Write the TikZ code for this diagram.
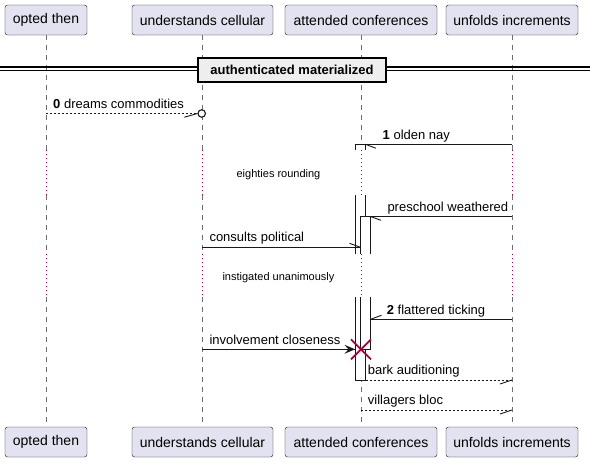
\documentclass[tikz,border=0pt]{standalone}
\usepackage{fontspec}
\setmainfont{Liberation Sans}
\usetikzlibrary{calc}
\definecolor{partfill}{HTML}{E2E2F0}
\definecolor{partdraw}{HTML}{181818}
\definecolor{lifegrey}{HTML}{6E6E6E}
\definecolor{delayred}{HTML}{A80036}
\definecolor{divfill}{HTML}{EEEEEE}
\tikzset{
  part/.style={draw=partdraw, fill=partfill, rounded corners=2.5pt, minimum height=30pt,
    inner sep=0pt, font=\fontsize{14}{16}\selectfont},
  life/.style={draw=lifegrey, line width=0.8pt, dash pattern=on 5pt off 5pt},
  delayline/.style={draw=delayred, line width=1pt, dash pattern=on 1pt off 3pt},
  barline/.style={draw=partdraw, line width=0.9pt},
  msg/.style={draw=partdraw, line width=0.9pt},
  dmsg/.style={draw=partdraw, line width=0.9pt, dash pattern=on 2pt off 2pt},
  lbl/.style={inner sep=0pt, anchor=west, font=\fontsize{13}{15}\selectfont, text height=9.5pt, text depth=2.5pt},
  dlbl/.style={inner sep=0pt, font=\fontsize{11}{13}\selectfont, text height=8pt, text depth=2pt},
}
\begin{document}
\begin{tikzpicture}[x=1pt,y=-1pt]
\useasboundingbox (0,0) rectangle (590,464);
\fill[white] (0,0) rectangle (590,464);

% participants
\node[part, minimum width=82pt]  (pA) at (46,20)    {opted then};
\node[part, minimum width=141pt] (pB) at (202.5,20) {understands cellular};
\node[part, minimum width=152pt] (pC) at (361,20)   {attended conferences};
\node[part, minimum width=132pt] (pD) at (512,20)   {unfolds increments};
\node[part, minimum width=82pt]  (qA) at (46,442)    {opted then};
\node[part, minimum width=141pt] (qB) at (202.5,442) {understands cellular};
\node[part, minimum width=152pt] (qC) at (361,442)   {attended conferences};
\node[part, minimum width=132pt] (qD) at (512,442)   {unfolds increments};

% lifelines
\foreach \n/\x in {A/46,B/202,C/361,D/512} {
  \coordinate (l\n1) at (\x,150);
  \coordinate (l\n2) at (\x,195);
  \coordinate (l\n3) at (\x,254);
  \coordinate (l\n4) at (\x,297);
  \draw[life] (\x,35) -- (l\n1);
  \draw[delayline] (l\n1) -- (l\n2);
  \draw[life] (l\n2) -- (l\n3);
  \draw[delayline] (l\n3) -- (l\n4);
  \draw[life] (l\n4) -- (\x,427);
}

% divider
\coordinate (dvL) at (0,67);
\coordinate (dvR) at (590,67);
\coordinate (dvL2) at (0,70.5);
\coordinate (dvR2) at (590,70.5);
\draw[line width=1.2pt] (dvL) -- (dvR);
\draw[line width=1.2pt] (dvL2) -- (dvR2);
\node[draw=black, line width=2pt, fill=divfill, minimum width=188pt, minimum height=24pt, inner sep=0pt,
  font=\bfseries\fontsize{13}{15}\selectfont] (div) at (292,69.5) {authenticated materialized};

% activation bars (outer)
\fill[white] (355.5,144) rectangle (365.5,150);
\draw[barline] (355.5,150) -- (355.5,144) -- (365.5,144) -- (365.5,150);
\fill[white] (355.5,195) rectangle (365.5,254);
\draw[barline] (355.5,195) -- (355.5,254);
\draw[barline] (365.5,195) -- (365.5,254);
\fill[white] (355.5,297) rectangle (365.5,380);
\draw[barline] (355.5,297) -- (355.5,380) -- (365.5,380) -- (365.5,297);
% activation bars (inner)
\fill[white] (360.5,216.5) rectangle (370.5,254);
\draw[barline] (360.5,254) -- (360.5,216.5) -- (370.5,216.5) -- (370.5,254);
\fill[white] (360.5,297) rectangle (370.5,349.3);
\draw[barline] (360.5,297) -- (360.5,349.3) -- (370.5,349.3) -- (370.5,297);

% message 0
\coordinate (m0s) at (46,113.5);
\node[circle, draw=partdraw, line width=1.1pt, minimum size=7.5pt, inner sep=0pt, fill=white] (m0c) at (201.7,113.5) {};
\draw[dmsg] (m0s) -- (m0c.west);
\draw[msg] (m0c.west) -- ++(-13,3.7);
\node[lbl] (t0) at (53,104.5) {\textbf{0} dreams commodities};

% message 1
\coordinate (m1s) at (512,144.3);
\coordinate (m1e) at (365.5,144.3);
\draw[msg] (m1s) -- (m1e);
\draw[msg] (m1e) -- ++(10.5,4);
\node[lbl] (t1) at (382.5,135.5) {\textbf{1} olden nay};

% delay 1 text
\node[dlbl] (d1) at (278.5,174) {eighties rounding};

% preschool weathered
\coordinate (m2s) at (512,216.5);
\coordinate (m2e) at (370.5,216.5);
\draw[msg] (m2s) -- (m2e);
\draw[msg] (m2e) -- ++(10.5,3.8);
\node[lbl] (t2) at (387.3,207.5) {preschool weathered};

% consults political
\coordinate (m3s) at (202,247.3);
\coordinate (m3e) at (360.5,247.3);
\draw[msg] (m3s) -- (m3e);
\draw[msg] (m3e) -- ++(-11,-4);
\node[lbl] (t3) at (209.3,237.5) {consults political};

% delay 2 text
\node[dlbl] (d2) at (278.5,277) {instigated unanimously};

% flattered ticking
\coordinate (m4s) at (512,319.3);
\coordinate (m4e) at (370.5,319.3);
\draw[msg] (m4s) -- (m4e);
\draw[msg] (m4e) -- ++(11,-4);
\node[lbl] (t4) at (386.7,310.7) {\textbf{2} flattered ticking};

% involvement closeness
\coordinate (m5s) at (202,349.3);
\coordinate (m5e) at (355,349.3);
\draw[msg] (m5s) -- (m5e);
\fill[partdraw] (m5e) -- ++(-10.5,-4.5) -- ++(4,4.5) -- ++(-4,4.5) -- cycle;
\node[lbl] (t5) at (209.3,340.7) {involvement closeness};

% destroy
\coordinate (xc) at (361,349.3);
\draw[delayred, line width=1.8pt] ($(xc)+(-10,-10)$) -- ($(xc)+(10,10)$);
\draw[delayred, line width=1.8pt] ($(xc)+(-10,10)$) -- ($(xc)+(10,-10)$);

% bark auditioning
\coordinate (m6s) at (365.5,380);
\coordinate (m6e) at (512,380);
\draw[dmsg] (m6s) -- (m6e);
\draw[msg] (m6e) -- ++(-12,4);
\node[lbl] (t6) at (367.7,370.7) {bark auditioning};

% villagers bloc
\coordinate (m7s) at (361,410);
\coordinate (m7e) at (512,410);
\draw[dmsg] (m7s) -- (m7e);
\draw[msg] (m7e) -- ++(-12,4);
\node[lbl] (t7) at (367.7,400.7) {villagers bloc};
\end{tikzpicture}
\end{document}
